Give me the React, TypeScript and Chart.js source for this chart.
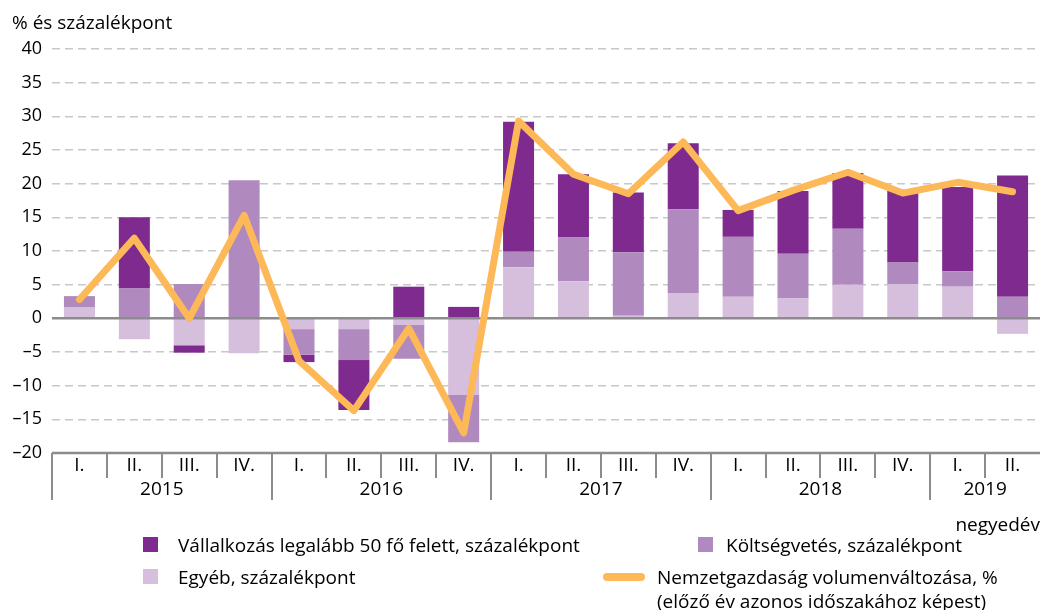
import React, { useEffect, useRef } from 'react';
import { Chart, registerables } from 'chart.js';

Chart.register(...registerables);

const quarters = ['I.', 'II.', 'III.', 'IV.', 'I.', 'II.', 'III.', 'IV.', 'I.', 'II.', 'III.', 'IV.', 'I.', 'II.', 'III.', 'IV.', 'I.', 'II.'];
const years = ['2015', '2016', '2017', '2018', '2019'];
const quartersPerYear = [4, 4, 4, 4, 2];

const vallalkozas = [0, 10.5, -1.1, 0, -1.1, -7.4, 4.7, 1.7, 19.3, 9.4, 8.9, 9.8, 4.0, 9.3, 8.3, 10.7, 12.5, 18.0];
const koltsegvetes = [1.7, 4.5, 5.1, 20.5, -3.8, -4.6, -5.1, -7.0, 2.3, 6.5, 9.4, 12.5, 8.9, 6.6, 8.3, 3.2, 2.3, 3.2];
const egyeb = [1.6, -3.1, -4.0, -5.2, -1.6, -1.6, -0.9, -11.4, 7.6, 5.5, 0.4, 3.7, 3.2, 3.0, 5.0, 5.1, 4.7, -2.3];
const nemzetgazdasag = [2.8, 11.9, 0, 15.3, -6.3, -13.7, -1.5, -17.0, 29.3, 21.4, 18.5, 26.2, 16.0, 19.0, 21.7, 18.6, 20.2, 18.8];

const yMin = -20;
const yMax = 40;
const yStep = 5;

const COLORS = {
  vallalkozas: '#7F2A8E',
  koltsegvetes: '#B089BE',
  egyeb: '#D6BFDC',
  line: '#FDB858',
  grid: '#C8C8C8',
  axis: '#8C8C8C',
};

const FONT = "'Open Sans', 'Noto Sans', sans-serif";

const quarterAxisPlugin = {
  id: 'quarterAxis',
  beforeDatasetDraw(chart: any, args: any) {
    if (args.index !== 3) return;
    const { ctx, chartArea, scales } = chart;
    const y0 = scales.y.getPixelForValue(0);
    ctx.save();
    ctx.strokeStyle = COLORS.axis;
    ctx.lineWidth = 2.5;
    ctx.beginPath();
    ctx.moveTo(chartArea.left, y0);
    ctx.lineTo(chartArea.right, y0);
    ctx.stroke();
    ctx.restore();
  },
  afterDraw(chart: any) {
    const { ctx, chartArea, scales } = chart;
    const x = scales.x;
    const bottom = chartArea.bottom;
    const n = quarters.length;
    const step = n > 1 ? x.getPixelForValue(1) - x.getPixelForValue(0) : 50;
    const boundary = (i: number) => x.getPixelForValue(i) - step / 2;
    ctx.save();
    ctx.strokeStyle = COLORS.axis;
    ctx.lineWidth = 2.5;
    ctx.beginPath();
    ctx.moveTo(chartArea.left, bottom);
    ctx.lineTo(chartArea.right, bottom);
    ctx.stroke();
    ctx.lineWidth = 2;
    const yearStarts: number[] = [];
    let acc = 0;
    quartersPerYear.forEach((c) => {
      yearStarts.push(acc);
      acc += c;
    });
    ctx.beginPath();
    for (let i = 0; i < n; i++) {
      const bx = Math.round(boundary(i));
      const isYear = yearStarts.includes(i);
      ctx.moveTo(bx, bottom);
      ctx.lineTo(bx, bottom + (isYear ? 47 : 25));
    }
    ctx.stroke();
    ctx.fillStyle = '#000';
    ctx.font = `19px ${FONT}`;
    ctx.textAlign = 'center';
    ctx.textBaseline = 'middle';
    for (let i = 0; i < n; i++) {
      ctx.fillText(quarters[i], x.getPixelForValue(i), bottom + 13);
    }
    years.forEach((yr, k) => {
      const s = yearStarts[k];
      const e = s + quartersPerYear[k] - 1;
      const cx = (x.getPixelForValue(s) + x.getPixelForValue(e)) / 2;
      ctx.fillText(yr, cx, bottom + 37);
    });
    ctx.restore();
  },
};

export default function App() {
  const canvasRef = useRef<HTMLCanvasElement | null>(null);

  useEffect(() => {
    if (!canvasRef.current) return;
    const barCommon = {
      type: 'bar',
      stack: 'bars',
      order: 2,
      barPercentage: 0.565,
      categoryPercentage: 1,
      borderWidth: 0,
    };
    const chart = new Chart(canvasRef.current, {
      type: 'bar',
      data: {
        labels: quarters,
        datasets: [
          { ...barCommon, label: 'Egyéb, százalékpont', data: egyeb, backgroundColor: COLORS.egyeb } as any,
          { ...barCommon, label: 'Költségvetés, százalékpont', data: koltsegvetes, backgroundColor: COLORS.koltsegvetes } as any,
          {
            ...barCommon,
            label: 'Vállalkozás legalább 50 fő felett, százalékpont',
            data: vallalkozas,
            backgroundColor: COLORS.vallalkozas,
          } as any,
          {
            type: 'line',
            label: 'Nemzetgazdaság volumenváltozása, % (előző év azonos időszakához képest)',
            data: nemzetgazdasag,
            borderColor: COLORS.line,
            backgroundColor: COLORS.line,
            borderWidth: 7,
            pointRadius: 0,
            tension: 0,
            fill: false,
            stack: 'line',
            order: 1,
            borderJoinStyle: 'round',
            borderCapStyle: 'round',
          } as any,
        ],
      },
      options: {
        animation: false,
        responsive: false,
        devicePixelRatio: 1,
        layout: { padding: { left: 0, top: 49, right: 4, bottom: 157 } },
        plugins: {
          legend: { display: false },
          tooltip: { enabled: false },
          title: { display: false },
        },
        scales: {
          x: {
            display: false,
            stacked: true,
            offset: true,
          },
          y: {
            stacked: true,
            min: yMin,
            max: yMax,
            afterFit: (scale: any) => {
              scale.width = 52;
            },
            ticks: {
              stepSize: yStep,
              padding: 10,
              color: '#000',
              font: { size: 18, family: FONT },
              callback: (v: any) => String(v).replace('-', '–'),
            },
            grid: {
              drawTicks: false,
              lineWidth: 1.5,
              color: (ctx: any) =>
                ctx.tick && (ctx.tick.value === 0 || ctx.tick.value === yMin) ? 'rgba(0,0,0,0)' : COLORS.grid,
            },
            border: { display: false, dash: [8, 5] },
          },
        },
      },
      plugins: [quarterAxisPlugin],
    });
    return () => chart.destroy();
  }, []);

  const text: React.CSSProperties = {
    position: 'absolute',
    fontFamily: FONT,
    fontSize: 19,
    color: '#000',
    whiteSpace: 'nowrap',
    lineHeight: '24px',
  };
  const square = (left: number, top: number, color: string): React.CSSProperties => ({
    position: 'absolute',
    left,
    top,
    width: 15,
    height: 15,
    background: color,
  });

  return (
    <div style={{ position: 'absolute', left: 0, top: 0, width: 1044, height: 610, background: '#fff', overflow: 'hidden' }}>
      <canvas ref={canvasRef} width={1044} height={610} style={{ position: 'absolute', left: 0, top: 0 }} />
      <div style={{ ...text, left: 12, top: 10 }}>% és százalékpont</div>
      <div style={{ ...text, right: 4, top: 512 }}>negyedév</div>
      <div style={square(143, 537, COLORS.vallalkozas)} />
      <div style={{ ...text, left: 178, top: 533 }}>Vállalkozás legalább 50 fő felett, százalékpont</div>
      <div style={square(698, 537, COLORS.koltsegvetes)} />
      <div style={{ ...text, left: 726, top: 533 }}>Költségvetés, százalékpont</div>
      <div style={square(143, 569, COLORS.egyeb)} />
      <div style={{ ...text, left: 178, top: 565 }}>Egyéb, százalékpont</div>
      <div
        style={{
          position: 'absolute',
          left: 603,
          top: 573,
          width: 42,
          height: 8,
          borderRadius: 4,
          background: COLORS.line,
        }}
      />
      <div style={{ ...text, left: 657, top: 565 }}>Nemzetgazdaság volumenváltozása, %</div>
      <div style={{ ...text, left: 657, top: 589 }}>(előző év azonos időszakához képest)</div>
    </div>
  );
}
